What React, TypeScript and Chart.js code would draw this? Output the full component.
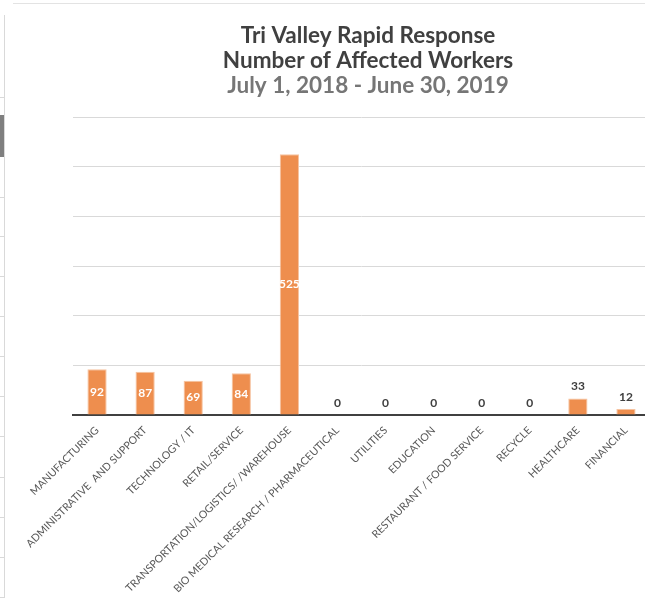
import React, { useEffect, useRef } from 'react';
import { Chart, registerables } from 'chart.js';

Chart.register(...registerables);

const categories = [
  'MANUFACTURING',
  'ADMINISTRATIVE  AND SUPPORT',
  'TECHNOLOGY / IT',
  'RETAIL/SERVICE',
  'TRANSPORTATION/LOGISTICS/ /WAREHOUSE',
  'BIO MEDICAL RESEARCH / PHARMACEUTICAL',
  'UTILITIES',
  'EDUCATION',
  'RESTAURANT / FOOD SERVICE',
  'RECYCLE',
  'HEALTHCARE',
  'FINANCIAL',
];
const workers = [92, 87, 69, 84, 525, 0, 0, 0, 0, 0, 33, 12];
const titleLines = ['Tri Valley Rapid Response', 'Number of Affected Workers'];
const subtitleText = 'July 1, 2018 - June 30, 2019';
const yMin = 0;
const yMax = 600;
const yStep = 100;

const FONT = 'Lato, "Open Sans", sans-serif';

const titlePlugin = {
  id: 'customTitle',
  afterDraw(chart: any) {
    const ctx = chart.ctx;
    ctx.save();
    ctx.textAlign = 'center';
    ctx.textBaseline = 'alphabetic';
    ctx.font = `bold 22.5px ${FONT}`;
    ctx.fillStyle = '#404040';
    ctx.fillText(titleLines[0], 368, 43);
    ctx.fillText(titleLines[1], 368, 68);
    ctx.fillStyle = '#767676';
    ctx.fillText(subtitleText, 368, 93);
    ctx.restore();
  },
};

const valueLabelPlugin = {
  id: 'valueLabels',
  afterDatasetsDraw(chart: any) {
    const ctx = chart.ctx;
    const meta = chart.getDatasetMeta(0);
    const data = chart.data.datasets[0].data as number[];
    ctx.save();
    ctx.textAlign = 'center';
    ctx.textBaseline = 'middle';
    ctx.font = `bold 12px ${FONT}`;
    meta.data.forEach((bar: any, i: number) => {
      const v = data[i];
      const { x, y, base } = bar.getProps(['x', 'y', 'base'], true);
      if (base - y > 30) {
        ctx.fillStyle = '#ffffff';
        ctx.fillText(String(v), x, (y + base) / 2);
      } else {
        ctx.fillStyle = '#404040';
        ctx.fillText(String(v), x, y - 12);
      }
    });
    ctx.restore();
  },
};

export default function App() {
  const canvasRef = useRef<HTMLCanvasElement | null>(null);

  useEffect(() => {
    if (!canvasRef.current) return;
    const chart = new Chart(canvasRef.current, {
      type: 'bar',
      data: {
        labels: categories,
        datasets: [
          {
            data: workers,
            backgroundColor: '#EE8E4E',
            borderColor: '#F6C3A0',
            borderWidth: 1,
            categoryPercentage: 1,
            barPercentage: 0.4,
          },
        ],
      },
      options: {
        responsive: false,
        animation: false,
        devicePixelRatio: 1,
        layout: { padding: { top: 117, right: 10, left: 0, bottom: 0 } },
        plugins: {
          legend: { display: false },
          title: { display: false },
          tooltip: { enabled: false },
        },
        scales: {
          x: {
            offset: true,
            grid: { display: false, drawTicks: false },
            border: { display: true, color: '#404040', width: 2 },
            ticks: {
              autoSkip: false,
              maxRotation: 45,
              minRotation: 45,
              color: '#595959',
              padding: 9,
              font: { family: FONT, size: 10.6 },
            },
            afterFit(scale: any) {
              scale.height = 183;
              scale.paddingLeft = 0;
              scale.paddingRight = 0;
            },
          },
          y: {
            min: yMin,
            max: yMax,
            ticks: { display: false, stepSize: yStep },
            grid: { color: '#D9D9D9', lineWidth: 1, drawTicks: false },
            border: { display: false },
            afterFit(scale: any) {
              scale.width = 73;
            },
          },
        },
      },
      plugins: [valueLabelPlugin, titlePlugin],
    });
    return () => chart.destroy();
  }, []);

  const marks = [97, 197, 236, 276, 316, 356, 396, 436, 477, 517, 557, 597];

  return (
    <div
      style={{
        position: 'fixed',
        left: 0,
        top: 0,
        width: 645,
        height: 598,
        overflow: 'hidden',
        background: '#ffffff',
      }}
    >
      <canvas
        ref={canvasRef}
        width={660}
        height={598}
        style={{ position: 'absolute', left: 0, top: 0, width: 660, height: 598 }}
      />
      <div style={{ position: 'absolute', left: 13, top: 3, width: 632, height: 1, background: '#E3E3E3' }} />
      <div style={{ position: 'absolute', left: 4, top: 15, width: 1, height: 583, background: '#D9D9D9' }} />
      <div style={{ position: 'absolute', left: 0, top: 115, width: 4, height: 42, background: '#7F7F7F' }} />
      {marks.map((m) => (
        <div key={m} style={{ position: 'absolute', left: 0, top: m, width: 4, height: 1, background: '#D9D9D9' }} />
      ))}
    </div>
  );
}
